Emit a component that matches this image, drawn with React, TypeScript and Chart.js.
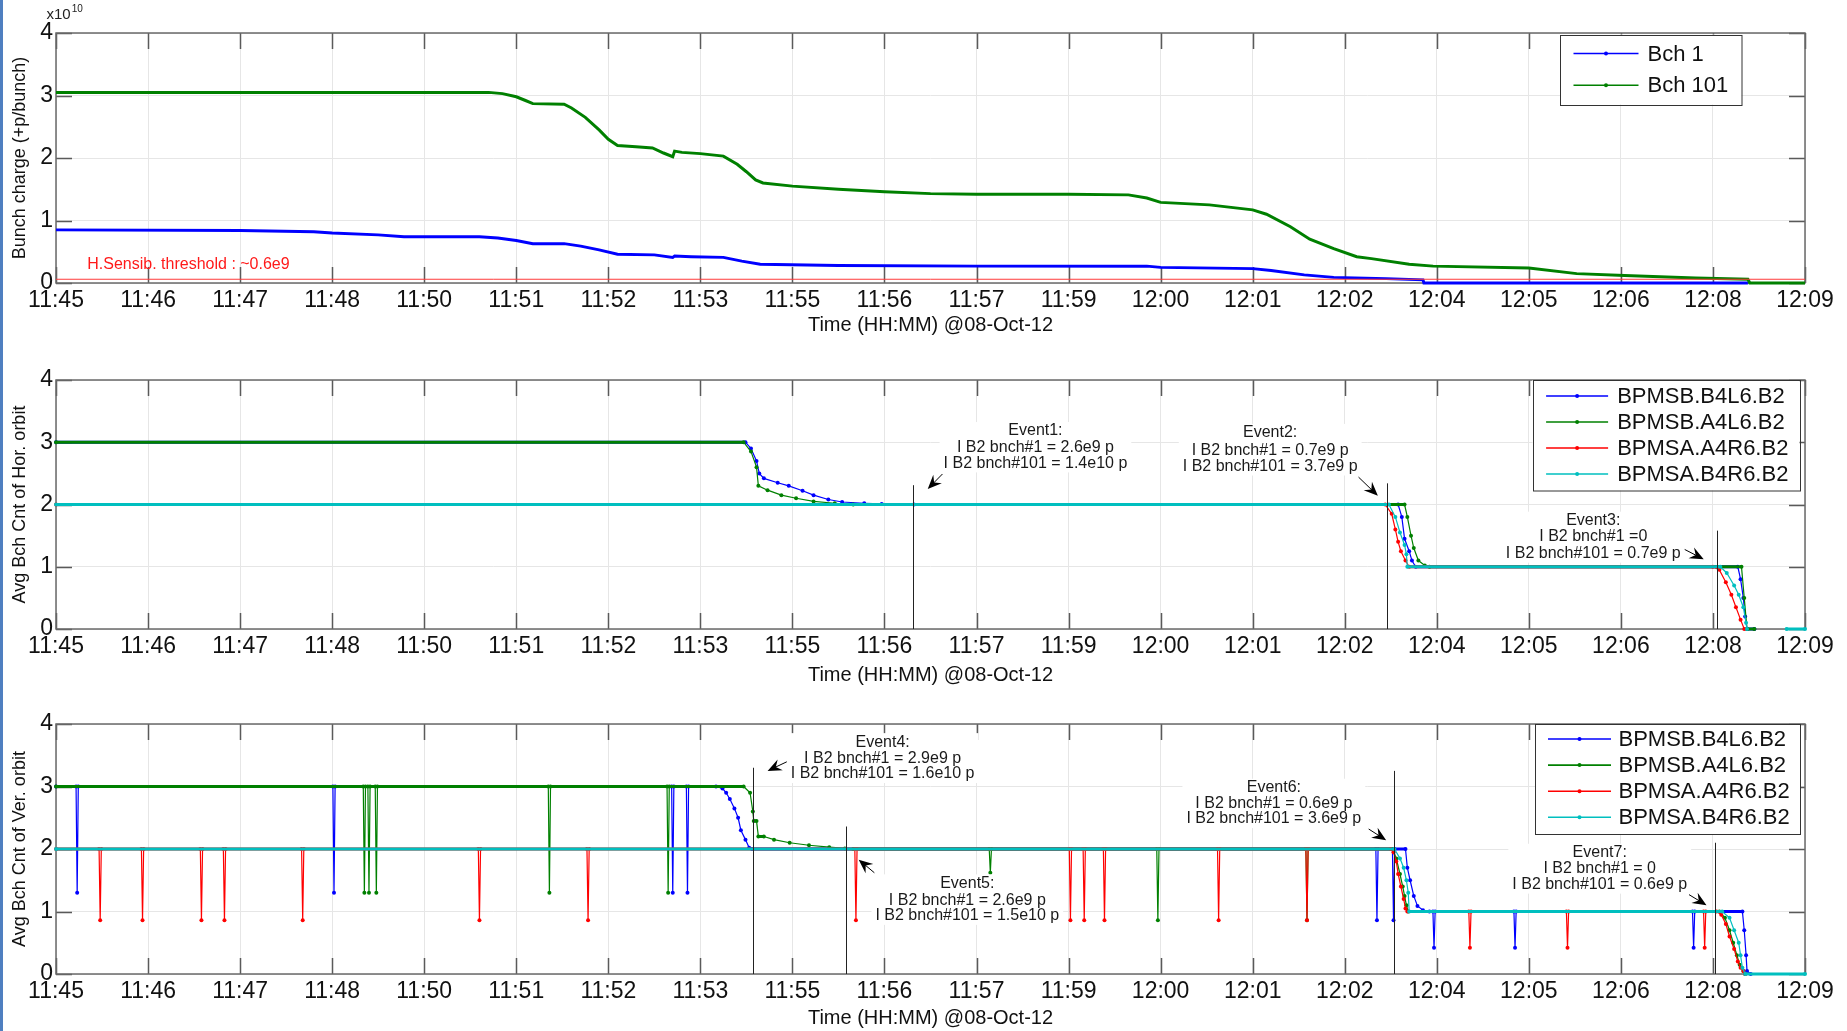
import React, { useEffect, useRef } from "react";
import { Chart, registerables } from "chart.js";

Chart.register(...registerables);

const FONT = "'Liberation Sans', Arial, Helvetica, sans-serif";

// ---------- shared axis data ----------
const timeLabels = [
  "11:45", "11:46", "11:47", "11:48", "11:50", "11:51", "11:52", "11:53", "11:55", "11:56",
  "11:57", "11:59", "12:00", "12:01", "12:02", "12:04", "12:05", "12:06", "12:08", "12:09",
];
const yTickValues = [0, 1, 2, 3, 4];
const xAxisTitle = "Time (HH:MM) @08-Oct-12";

type P = [number, number | null];
type Spike = [number, number, number]; // [x, level, dip]

// ---------- panel 1 : bunch charge (x1e10) ----------
const bch1Points: P[] = [
  [0, 0.85], [2.0, 0.84], [2.8, 0.82], [3.0, 0.8], [3.5, 0.77], [3.78, 0.74], [4.6, 0.74], [4.8, 0.72],
  [5.0, 0.68], [5.18, 0.63], [5.52, 0.63], [5.7, 0.59], [5.9, 0.53], [6.1, 0.46], [6.5, 0.45], [6.7, 0.41],
  [6.72, 0.43], [6.9, 0.42], [7.25, 0.41], [7.45, 0.35], [7.65, 0.3], [8.5, 0.28], [10.0, 0.27], [11.85, 0.27],
  [12.0, 0.25], [13.0, 0.23], [13.2, 0.2], [13.56, 0.13], [13.88, 0.09], [14.45, 0.07], [14.85, 0.05],
  [14.86, 0.0], [18.38, 0.0],
];
const bch101Points: P[] = [
  [0, 3.05], [4.7, 3.05], [4.85, 3.03], [5.0, 2.98], [5.1, 2.92], [5.18, 2.87], [5.52, 2.86], [5.6, 2.8],
  [5.75, 2.65], [5.9, 2.45], [6.0, 2.3], [6.1, 2.2], [6.3, 2.18], [6.48, 2.16], [6.6, 2.08], [6.7, 2.02],
  [6.72, 2.11], [6.8, 2.09], [7.0, 2.07], [7.25, 2.03], [7.4, 1.9], [7.5, 1.78], [7.6, 1.65], [7.68, 1.6],
  [8.0, 1.55], [8.5, 1.5], [9.0, 1.46], [9.5, 1.43], [10.0, 1.42], [11.0, 1.42], [11.65, 1.41], [11.85, 1.36],
  [12.0, 1.29], [12.53, 1.25], [13.0, 1.17], [13.15, 1.1], [13.41, 0.9], [13.62, 0.7], [13.88, 0.55],
  [14.13, 0.42], [14.29, 0.39], [14.7, 0.3], [14.96, 0.27], [16.0, 0.24], [16.52, 0.15], [17.04, 0.12],
  [17.81, 0.08], [18.38, 0.06], [18.4, 0.0], [19, 0.0],
];
const thresholdPoints: P[] = [[0, 0.06], [19, 0.06]];

// ---------- panel 2 : horizontal orbit ----------
const horB4L6: P[] = [
  [0, 3], [7.49, 3], [7.55, 2.9], [7.61, 2.7], [7.64, 2.5], [7.69, 2.42], [7.84, 2.35], [7.96, 2.3],
  [8.11, 2.22], [8.23, 2.15], [8.39, 2.08], [8.54, 2.04], [8.78, 2.02], [8.97, 2.01], [9.32, 2.0],
  [14.58, 2.0], [14.62, 1.8], [14.65, 1.45], [14.7, 1.25], [14.73, 1.1], [14.77, 1.0], [18.27, 1.0],
  [18.3, 0.8], [18.33, 0.5], [18.35, 0.2], [18.37, 0], [18.45, 0],
];
const horA4L6: P[] = [
  [0, 3], [7.47, 3], [7.55, 2.85], [7.61, 2.6], [7.63, 2.3], [7.73, 2.23], [7.88, 2.15], [8.04, 2.1],
  [8.23, 2.05], [8.46, 2.02], [8.66, 2.0], [14.65, 2.0], [14.68, 1.8], [14.72, 1.5], [14.75, 1.3],
  [14.8, 1.1], [14.87, 1.02], [14.92, 1.0], [18.31, 1.0], [18.34, 0.5], [18.37, 0], [18.45, 0],
];
const horA4R6: P[] = [
  [0, 2], [14.44, 2], [14.51, 1.85], [14.55, 1.6], [14.58, 1.4], [14.61, 1.25], [14.66, 1.1], [14.7, 1.0],
  [18.0, 1.0], [18.07, 0.95], [18.14, 0.75], [18.2, 0.55], [18.25, 0.35], [18.3, 0.15], [18.34, 0],
];
const horB4R6: P[] = [
  [0, 2], [14.48, 2], [14.55, 1.8], [14.6, 1.55], [14.65, 1.35], [14.67, 1.2], [14.68, 1.0], [18.08, 1.0],
  [18.15, 0.9], [18.23, 0.7], [18.28, 0.55], [18.33, 0.35], [18.36, 0.1], [18.37, 0], [18.6, null],
  [18.8, 0], [19, 0],
];

// ---------- panel 3 : vertical orbit ----------
const verB4L6Base: P[] = [
  [0, 3], [7.17, 3], [7.24, 2.97], [7.28, 2.9], [7.32, 2.8], [7.37, 2.65], [7.41, 2.5], [7.44, 2.3],
  [7.49, 2.15], [7.53, 2.02], [7.56, 2.0], [14.66, 2.0], [14.68, 1.7], [14.71, 1.5], [14.75, 1.25],
  [14.79, 1.09], [14.85, 1.02], [14.92, 1.0], [18.32, 1.0], [18.34, 0.7], [18.36, 0.3], [18.37, 0.05],
  [18.41, 0],
];
const verB4L6Spikes: Spike[] = [
  [0.23, 3, 1.3], [3.02, 3, 1.3], [6.7, 3, 1.3], [6.86, 3, 1.3], [14.35, 2, 0.86], [14.53, 2, 0.86],
  [14.97, 1, 0.42], [15.85, 1, 0.42], [17.79, 1, 0.42],
];
const verA4L6Base: P[] = [
  [0, 3], [7.47, 3], [7.54, 2.9], [7.57, 2.6], [7.58, 2.45], [7.61, 2.45], [7.63, 2.2], [7.69, 2.2],
  [7.8, 2.15], [7.97, 2.1], [8.18, 2.06], [8.4, 2.03], [8.57, 2.01], [8.66, 2.0], [14.52, 2.0],
  [14.56, 1.85], [14.6, 1.6], [14.63, 1.4], [14.65, 1.25], [14.67, 1.1], [14.69, 1.0], [18.07, 1.0],
  [18.13, 0.9], [18.18, 0.7], [18.22, 0.5], [18.26, 0.3], [18.29, 0.15], [18.33, 0.05], [18.35, 0],
];
const verA4L6Spikes: Spike[] = [
  [3.35, 3, 1.3], [3.4, 3, 1.3], [3.48, 3, 1.3], [5.36, 3, 1.3], [6.65, 3, 1.3], [10.15, 2, 1.62],
  [11.97, 2, 0.86], [13.59, 2, 0.86],
];
const verA4R6Base: P[] = [
  [0, 2], [14.5, 2], [14.53, 1.95], [14.56, 1.8], [14.58, 1.6], [14.61, 1.4], [14.64, 1.2], [14.66, 1.05],
  [14.68, 1.0], [18.04, 1.0], [18.09, 0.95], [18.14, 0.8], [18.18, 0.6], [18.23, 0.4], [18.27, 0.2],
  [18.3, 0.1], [18.33, 0.05], [18.35, 0],
];
const verA4R6Spikes: Spike[] = [
  [0.48, 2, 0.86], [0.94, 2, 0.86], [1.58, 2, 0.86], [1.83, 2, 0.86], [2.68, 2, 0.86], [4.6, 2, 0.86],
  [5.78, 2, 0.86], [8.69, 2, 0.86], [11.02, 2, 0.86], [11.17, 2, 0.86], [11.39, 2, 0.86], [12.63, 2, 0.86],
  [13.59, 2, 0.86], [15.36, 1, 0.42], [16.42, 1, 0.42], [17.91, 1, 0.42],
];
const verB4R6Base: P[] = [
  [0, 2], [14.54, 2], [14.6, 1.85], [14.64, 1.7], [14.67, 1.5], [14.69, 1.3], [14.7, 1.0], [18.1, 1.0],
  [18.18, 0.9], [18.23, 0.7], [18.28, 0.5], [18.3, 0.3], [18.32, 0.1], [18.35, 0], [19, 0],
];

// ---------- annotations ----------
type EventNote = { lineX: number; lineTop: number; arrow: number[]; textX: number; textY: number[]; text: string[] };
const horEvents: EventNote[] = [
  { lineX: 9.31, lineTop: 2.31, arrow: [9.63, 2.49, 9.47, 2.25], textX: 10.64, textY: [3.18, 2.91, 2.66],
    text: ["Event1:", "I B2 bnch#1 = 2.6e9 p", "I B2 bnch#101 = 1.4e10 p"] },
  { lineX: 14.46, lineTop: 2.34, arrow: [14.15, 2.44, 14.36, 2.14], textX: 13.19, textY: [3.15, 2.86, 2.61],
    text: ["Event2:", "I B2 bnch#1 = 0.7e9 p", "I B2 bnch#101 = 3.7e9 p"] },
  { lineX: 18.04, lineTop: 1.58, arrow: [17.48, 1.44, 17.9, 1.12], textX: 16.7, textY: [1.74, 1.48, 1.21],
    text: ["Event3:", "I B2 bnch#1 =0", "I B2 bnch#101 = 0.7e9 p"] },
];
const verEvents: EventNote[] = [
  { lineX: 7.57, lineTop: 3.3, arrow: [7.96, 3.41, 7.73, 3.25], textX: 8.98, textY: [3.71, 3.45, 3.2],
    text: ["Event4:", "I B2 bnch#1 = 2.9e9 p", "I B2 bnch#101 = 1.6e10 p"] },
  { lineX: 8.58, lineTop: 2.36, arrow: [8.89, 1.62, 8.72, 1.83], textX: 9.9, textY: [1.45, 1.18, 0.93],
    text: ["Event5:", "I B2 bnch#1 = 2.6e9 p", "I B2 bnch#101 = 1.5e10 p"] },
  { lineX: 14.53, lineTop: 3.25, arrow: [14.26, 2.32, 14.45, 2.14], textX: 13.23, textY: [2.98, 2.73, 2.48],
    text: ["Event6:", "I B2 bnch#1 = 0.6e9 p", "I B2 bnch#101 = 3.6e9 p"] },
  { lineX: 18.02, lineTop: 2.1, arrow: [17.74, 1.27, 17.93, 1.1], textX: 16.77, textY: [1.94, 1.69, 1.43],
    text: ["Event7:", "I B2 bnch#1 = 0", "I B2 bnch#101 = 0.6e9 p"] },
];
const thresholdNote = { x: 0.34, y: 0.3, text: "H.Sensib. threshold : ~0.6e9" };

// ---------- helpers ----------
const SPIKE_HALF = 0.012;
function withSpikes(base: P[], spikes: Spike[]): P[] {
  const pts: P[] = base.map((p) => [p[0], p[1]] as P);
  spikes.forEach(([x, level, dip]) => {
    pts.push([x - SPIKE_HALF, level], [x, dip], [x + SPIKE_HALF, level]);
  });
  return pts.sort((a, b) => a[0] - b[0]);
}

const BLUE = "#0000ff";
const GREEN = "#008000";
const RED = "#ff0000";
const CYAN = "#00bfbf";

type Series = { label: string; points: P[]; color: string; width: number; dots: boolean; order: number };
type LegendSpec = {
  width: number; height: number; rightGap: number; topGap: number; rowStart: number; rowStep: number;
  lineLeft: number; lineLen: number; textLeft: number; fontSize: number;
};
type PanelSpec = {
  key: string; top: number; height: number; padTop: number; xHeight: number; titlePadBottom: number;
  yTitle: string; series: Series[]; events: EventNote[]; legend: LegendSpec; exponent: boolean; threshold: boolean;
};

const TICK = 16;

function drawArrow(ctx: CanvasRenderingContext2D, x1: number, y1: number, x2: number, y2: number) {
  const dx = x2 - x1, dy = y2 - y1;
  const len = Math.hypot(dx, dy) || 1;
  const ux = dx / len, uy = dy / len;
  const nx = -uy, ny = ux;
  const L = 14, W = 6;
  ctx.beginPath();
  ctx.moveTo(x1, y1);
  ctx.lineTo(x2 - ux * L * 0.6, y2 - uy * L * 0.6);
  ctx.lineWidth = 1;
  ctx.strokeStyle = "#000";
  ctx.stroke();
  ctx.beginPath();
  ctx.moveTo(x2, y2);
  ctx.lineTo(x2 - ux * L + nx * W, y2 - uy * L + ny * W);
  ctx.lineTo(x2 - ux * L * 0.65, y2 - uy * L * 0.65);
  ctx.lineTo(x2 - ux * L - nx * W, y2 - uy * L - ny * W);
  ctx.closePath();
  ctx.fillStyle = "#000";
  ctx.fill();
}

function makeDecor(spec: PanelSpec) {
  return {
    id: "decor" + spec.key,
    beforeDatasetsDraw(chart: any) {
      const { ctx, chartArea: a, scales } = chart;
      const xs = scales.x, ys = scales.y;
      ctx.save();
      ctx.strokeStyle = "#5a5a5a";
      ctx.lineWidth = 1.5;
      ctx.beginPath();
      for (let i = 0; i < timeLabels.length; i++) {
        const px = Math.round(xs.getPixelForValue(i)) + 0.5;
        ctx.moveTo(px, a.bottom); ctx.lineTo(px, a.bottom - TICK);
        ctx.moveTo(px, a.top); ctx.lineTo(px, a.top + TICK);
      }
      for (const v of yTickValues) {
        const py = Math.round(ys.getPixelForValue(v)) + 0.5;
        ctx.moveTo(a.left, py); ctx.lineTo(a.left + TICK, py);
        ctx.moveTo(a.right, py); ctx.lineTo(a.right - TICK, py);
      }
      ctx.stroke();
      ctx.strokeStyle = "#6a6a6a";
      ctx.lineWidth = 1.5;
      ctx.strokeRect(a.left, a.top, a.right - a.left, a.bottom - a.top);
      ctx.restore();
    },
    afterDatasetsDraw(chart: any) {
      const { ctx, chartArea: a, scales } = chart;
      const xs = scales.x, ys = scales.y;
      ctx.save();
      // events
      ctx.font = `16px ${FONT}`;
      spec.events.forEach((ev) => {
        const lx = Math.round(xs.getPixelForValue(ev.lineX)) + 0.5;
        ctx.beginPath();
        ctx.moveTo(lx, ys.getPixelForValue(0));
        ctx.lineTo(lx, ys.getPixelForValue(ev.lineTop));
        ctx.strokeStyle = "#222";
        ctx.lineWidth = 1;
        ctx.stroke();
        drawArrow(ctx, xs.getPixelForValue(ev.arrow[0]), ys.getPixelForValue(ev.arrow[1]),
          xs.getPixelForValue(ev.arrow[2]), ys.getPixelForValue(ev.arrow[3]));
        const cx = xs.getPixelForValue(ev.textX);
        const w = Math.max(...ev.text.map((t) => ctx.measureText(t).width));
        const yTop = ys.getPixelForValue(ev.textY[0]) - 9;
        const yBot = ys.getPixelForValue(ev.textY[ev.textY.length - 1]) + 9;
        ctx.fillStyle = "#fff";
        ctx.fillRect(cx - w / 2 - 4, yTop, w + 8, yBot - yTop);
        ctx.fillStyle = "#1a1a1a";
        ctx.textAlign = "center";
        ctx.textBaseline = "middle";
        ev.text.forEach((t, k) => ctx.fillText(t, cx, ys.getPixelForValue(ev.textY[k])));
      });
      if (spec.threshold) {
        ctx.font = `16px ${FONT}`;
        ctx.fillStyle = "#ff1a1a";
        ctx.textAlign = "left";
        ctx.textBaseline = "middle";
        ctx.fillText(thresholdNote.text, xs.getPixelForValue(thresholdNote.x), ys.getPixelForValue(thresholdNote.y));
      }
      if (spec.exponent) {
        ctx.fillStyle = "#222";
        ctx.textAlign = "left";
        ctx.textBaseline = "alphabetic";
        ctx.font = `15px ${FONT}`;
        const bx = a.left - 9.5;
        ctx.fillText("x10", bx, a.top - 14);
        const w = ctx.measureText("x10").width;
        ctx.font = `10px ${FONT}`;
        ctx.fillText("10", bx + w + 1, a.top - 21);
      }
      // legend
      const L = spec.legend;
      const bx = a.right - L.rightGap - L.width;
      const by = a.top + L.topGap;
      ctx.fillStyle = "#fff";
      ctx.fillRect(bx, by, L.width, L.height);
      ctx.strokeStyle = "#333";
      ctx.lineWidth = 1;
      ctx.strokeRect(Math.round(bx) + 0.5, Math.round(by) + 0.5, L.width, L.height);
      ctx.font = `${L.fontSize}px ${FONT}`;
      ctx.textAlign = "left";
      ctx.textBaseline = "middle";
      const entries = chart.data.datasets.filter((d: any) => d.label);
      entries.forEach((d: any, k: number) => {
        const ry = by + L.rowStart + k * L.rowStep;
        ctx.beginPath();
        ctx.moveTo(bx + L.lineLeft, ry);
        ctx.lineTo(bx + L.lineLeft + L.lineLen, ry);
        ctx.strokeStyle = d.borderColor;
        ctx.lineWidth = 1.6;
        ctx.stroke();
        ctx.beginPath();
        ctx.arc(bx + L.lineLeft + L.lineLen / 2, ry, 2, 0, Math.PI * 2);
        ctx.fillStyle = d.borderColor;
        ctx.fill();
        ctx.fillStyle = "#111";
        ctx.fillText(d.label, bx + L.textLeft, ry + 1);
      });
      ctx.restore();
    },
  };
}

function buildConfig(spec: PanelSpec): any {
  return {
    type: "line",
    data: {
      datasets: spec.series.map((s) => ({
        label: s.label,
        data: s.points.map(([x, y]) => ({ x, y })),
        borderColor: s.color,
        backgroundColor: s.color,
        pointBackgroundColor: s.color,
        borderWidth: s.width,
        pointRadius: s.dots ? 2 : 0,
        pointBorderWidth: 0,
        pointHoverRadius: 0,
        tension: 0,
        spanGaps: false,
        clip: 6,
        order: s.order,
        segment: s.dots
          ? { borderWidth: (c: any) => (c.p0.parsed.y === c.p1.parsed.y ? s.width : 1.2) }
          : undefined,
      })),
    },
    options: {
      animation: false,
      responsive: false,
      maintainAspectRatio: false,
      events: [],
      layout: { padding: { left: 0, right: 42, top: spec.padTop, bottom: 0 } },
      plugins: { legend: { display: false }, tooltip: { enabled: false } },
      scales: {
        x: {
          type: "linear",
          min: 0,
          max: timeLabels.length - 1,
          afterFit: (s: any) => { s.height = spec.xHeight; },
          afterBuildTicks: (s: any) => { s.ticks = timeLabels.map((_, i) => ({ value: i })); },
          ticks: {
            autoSkip: false, maxRotation: 0, minRotation: 0, padding: 4,
            color: "#111", font: { family: FONT, size: 23 },
            callback: (v: any) => timeLabels[Math.round(Number(v))] ?? "",
          },
          grid: { color: "#e6e6e6", lineWidth: 1, drawTicks: false },
          border: { display: false },
          title: {
            display: true, text: xAxisTitle, color: "#111",
            font: { family: FONT, size: 20 }, padding: { top: 0, bottom: spec.titlePadBottom },
          },
        },
        y: {
          type: "linear",
          min: 0,
          max: 4,
          afterFit: (s: any) => { s.width = 56; },
          afterBuildTicks: (s: any) => { s.ticks = yTickValues.map((v) => ({ value: v })); },
          ticks: { padding: 3, color: "#111", font: { family: FONT, size: 23 } },
          grid: { color: "#e6e6e6", lineWidth: 1, drawTicks: false },
          border: { display: false },
          title: {
            display: true, text: spec.yTitle, color: "#111",
            font: { family: FONT, size: 18 }, padding: { top: 9, bottom: 0 },
          },
        },
      },
    },
    plugins: [makeDecor(spec)],
  };
}

const panelTop: PanelSpec = {
  key: "charge", top: 0, height: 345, padTop: 33, xHeight: 62, titlePadBottom: 8,
  yTitle: "Bunch charge (+p/bunch)", exponent: true, threshold: true, events: [],
  legend: { width: 181.5, height: 70, rightGap: 63.5, topGap: 1.5, rowStart: 19, rowStep: 31.7,
    lineLeft: 13.5, lineLen: 65, textLeft: 87.5, fontSize: 22 },
  series: [
    { label: "Bch 1", points: bch1Points, color: BLUE, width: 3, dots: false, order: 2 },
    { label: "Bch 101", points: bch101Points, color: GREEN, width: 3, dots: false, order: 1 },
    { label: "", points: thresholdPoints, color: "#ff3b3b", width: 1, dots: false, order: 0 },
  ],
};

const panelHor: PanelSpec = {
  key: "hor", top: 345, height: 345, padTop: 35, xHeight: 61, titlePadBottom: 3,
  yTitle: "Avg Bch Cnt of Hor. orbit", exponent: false, threshold: false, events: horEvents,
  legend: { width: 267, height: 110.5, rightGap: 5.5, topGap: 0, rowStart: 16, rowStep: 26,
    lineLeft: 13.6, lineLen: 62, textLeft: 84.7, fontSize: 22 },
  series: [
    { label: "BPMSB.B4L6.B2", points: horB4L6, color: BLUE, width: 3, dots: true, order: 3 },
    { label: "BPMSB.A4L6.B2", points: horA4L6, color: GREEN, width: 3, dots: true, order: 2 },
    { label: "BPMSA.A4R6.B2", points: horA4R6, color: RED, width: 3, dots: true, order: 1 },
    { label: "BPMSA.B4R6.B2", points: horB4R6, color: CYAN, width: 3, dots: true, order: 0 },
  ],
};

const panelVer: PanelSpec = {
  key: "ver", top: 690, height: 341, padTop: 34, xHeight: 57, titlePadBottom: 1,
  yTitle: "Avg Bch Cnt of Ver. orbit", exponent: false, threshold: false, events: verEvents,
  legend: { width: 265, height: 110, rightGap: 5, topGap: 0, rowStart: 15, rowStep: 26.1,
    lineLeft: 13, lineLen: 63, textLeft: 83.5, fontSize: 22 },
  series: [
    { label: "BPMSB.B4L6.B2", points: withSpikes(verB4L6Base, verB4L6Spikes), color: BLUE, width: 3, dots: true, order: 3 },
    { label: "BPMSB.A4L6.B2", points: withSpikes(verA4L6Base, verA4L6Spikes), color: GREEN, width: 3, dots: true, order: 2 },
    { label: "BPMSA.A4R6.B2", points: withSpikes(verA4R6Base, verA4R6Spikes), color: RED, width: 3, dots: true, order: 1 },
    { label: "BPMSA.B4R6.B2", points: verB4R6Base, color: CYAN, width: 3, dots: true, order: 0 },
  ],
};

function Panel({ spec }: { spec: PanelSpec }) {
  const ref = useRef<HTMLCanvasElement>(null);
  useEffect(() => {
    const chart = new Chart(ref.current as HTMLCanvasElement, buildConfig(spec));
    return () => chart.destroy();
  }, [spec]);
  return (
    <canvas
      ref={ref}
      width={1847}
      height={spec.height}
      style={{ position: "absolute", left: 0, top: spec.top, width: 1847, height: spec.height }}
    />
  );
}

export default function App() {
  return (
    <div
      style={{
        position: "absolute", left: 0, top: 0, width: 1847, height: 1031, overflow: "hidden",
        background: "#fff",
      }}
    >
      <Panel spec={panelTop} />
      <Panel spec={panelHor} />
      <Panel spec={panelVer} />
      <div style={{ position: "absolute", left: 0, top: 0, width: 3, height: 1031, background: "#4f7fc0" }} />
    </div>
  );
}
